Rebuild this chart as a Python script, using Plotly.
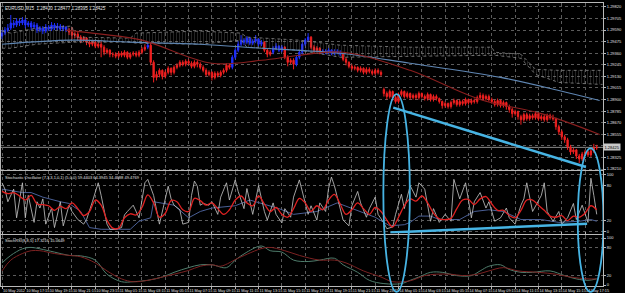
import plotly.graph_objects as go

# ---------------- data ----------------
bars = list(range(205))
closes = [1.2956,1.2959,1.2961,1.2966,1.2964,1.2968,1.2966,1.2969,1.2964,1.2966,
          1.2962,1.2964,1.2959,1.2961,1.2958,1.2962,1.2960,1.2964,1.2961,1.2963,
          1.2960,1.2962,1.2959,1.2957,1.2954,1.2955,1.2952,1.2949,1.2951,1.2947,
          1.2945,1.2947,1.2943,1.2945,1.2942,1.2937,1.2939,1.2935,1.2935,1.2933,
          1.2936,1.2934,1.2937,1.2932,1.2935,1.2936,1.2934,1.2937,1.2940,1.2942,
          1.2944,1.2927,1.2912,1.2915,1.2919,1.2913,1.2917,1.2921,1.2917,1.2922,
          1.2924,1.2927,1.2925,1.2928,1.2926,1.2923,1.2927,1.2925,1.2922,1.2919,
          1.2915,1.2917,1.2912,1.2916,1.2914,1.2917,1.2919,1.2924,1.2922,1.2932,
          1.2939,1.2945,1.2949,1.2947,1.2951,1.2946,1.2948,1.2950,1.2945,1.2947,
          1.2939,1.2935,1.2937,1.2941,1.2943,1.2939,1.2942,1.2932,1.2927,1.2929,
          1.2925,1.2932,1.2937,1.2945,1.2949,1.2952,1.2942,1.2939,1.2941,1.2937,
          1.2938,1.2937,1.2939,1.2936,1.2938,1.2937,1.2935,1.2930,1.2927,1.2923,
          1.2921,1.2922,1.2919,1.2921,1.2917,1.2920,1.2918,1.2916,1.2919,1.2917,
          1.2915,1.2896,1.2893,1.2898,1.2892,1.2888,1.2895,1.2898,1.2893,1.2896,
          1.2892,1.2894,1.2892,1.2896,1.2893,1.2891,1.2895,1.2890,1.2893,1.2891,
          1.2888,1.2884,1.2886,1.2883,1.2887,1.2889,1.2885,1.2888,1.2886,1.2890,
          1.2887,1.2889,1.2888,1.2892,1.2894,1.2891,1.2893,1.2890,1.2888,1.2885,
          1.2889,1.2884,1.2887,1.2883,1.2880,1.2876,1.2878,1.2873,1.2870,1.2875,
          1.2871,1.2874,1.2872,1.2876,1.2871,1.2873,1.2870,1.2874,1.2872,1.2871,
          1.2863,1.2858,1.2853,1.2850,1.2843,1.2838,1.2840,1.2834,1.2831,1.2836,
          1.2838,1.2835,1.2839,1.2842,1.28425]
opens = [1.2953,1.2956,1.2959,1.2961,1.2966,1.2964,1.2968,1.2966,1.2969,1.2964,
         1.2966,1.2962,1.2964,1.2959,1.2961,1.2958,1.2962,1.2960,1.2964,1.2961,
         1.2963,1.2960,1.2962,1.2959,1.2957,1.2954,1.2955,1.2952,1.2949,1.2951,
         1.2947,1.2945,1.2947,1.2943,1.2945,1.2942,1.2937,1.2939,1.2935,1.2935,
         1.2933,1.2936,1.2934,1.2937,1.2932,1.2935,1.2936,1.2934,1.2937,1.2940,
         1.2942,1.2944,1.2927,1.2912,1.2915,1.2919,1.2913,1.2917,1.2921,1.2917,
         1.2922,1.2924,1.2927,1.2925,1.2928,1.2926,1.2923,1.2927,1.2925,1.2922,
         1.2919,1.2915,1.2917,1.2912,1.2916,1.2914,1.2917,1.2919,1.2924,1.2922,
         1.2932,1.2939,1.2945,1.2949,1.2947,1.2951,1.2946,1.2948,1.2950,1.2945,
         1.2947,1.2939,1.2935,1.2937,1.2941,1.2943,1.2939,1.2942,1.2932,1.2927,
         1.2929,1.2925,1.2932,1.2937,1.2945,1.2949,1.2952,1.2942,1.2939,1.2941,
         1.2937,1.2938,1.2937,1.2939,1.2936,1.2938,1.2937,1.2935,1.2930,1.2927,
         1.2923,1.2921,1.2922,1.2919,1.2921,1.2917,1.2920,1.2918,1.2916,1.2919,
         1.2917,1.2900,1.2896,1.2893,1.2898,1.2892,1.2888,1.2895,1.2898,1.2893,
         1.2896,1.2892,1.2894,1.2892,1.2896,1.2893,1.2891,1.2895,1.2890,1.2893,
         1.2891,1.2888,1.2884,1.2886,1.2883,1.2887,1.2889,1.2885,1.2888,1.2886,
         1.2890,1.2887,1.2889,1.2888,1.2892,1.2894,1.2891,1.2893,1.2890,1.2888,
         1.2885,1.2889,1.2884,1.2887,1.2883,1.2880,1.2876,1.2878,1.2873,1.2870,
         1.2875,1.2871,1.2874,1.2872,1.2876,1.2871,1.2873,1.2870,1.2874,1.2872,
         1.2871,1.2863,1.2858,1.2853,1.2850,1.2843,1.2838,1.2840,1.2834,1.2831,
         1.2836,1.2838,1.2835,1.2839,1.2842]
highs = [1.2959,1.2962,1.2965,1.2974,1.2969,1.2971,1.2970,1.2972,1.2971,1.2968,
         1.2968,1.2967,1.2966,1.2963,1.2963,1.2965,1.2964,1.2967,1.2966,1.2966,
         1.2965,1.2964,1.2963,1.2961,1.2962,1.2957,1.2957,1.2954,1.2953,1.2952,
         1.2949,1.2949,1.2948,1.2947,1.2948,1.2944,1.2941,1.2940,1.2937,1.2937,
         1.2938,1.2938,1.2939,1.2938,1.2937,1.2938,1.2938,1.2939,1.2942,1.2945,
         1.2947,1.2946,1.2929,1.2918,1.2921,1.2920,1.2919,1.2923,1.2922,1.2924,
         1.2926,1.2929,1.2929,1.2930,1.2930,1.2928,1.2929,1.2929,1.2927,1.2924,
         1.2921,1.2919,1.2918,1.2918,1.2918,1.2919,1.2921,1.2926,1.2926,1.2934,
         1.2941,1.2948,1.2954,1.2951,1.2953,1.2952,1.2950,1.2954,1.2951,1.2949,
         1.2948,1.2941,1.2939,1.2943,1.2946,1.2944,1.2944,1.2943,1.2934,1.2931,
         1.2931,1.2934,1.2939,1.2947,1.2951,1.2956,1.2953,1.2944,1.2943,1.2942,
         1.2940,1.2940,1.2941,1.2940,1.2940,1.2940,1.2939,1.2936,1.2932,1.2928,
         1.2925,1.2924,1.2923,1.2923,1.2922,1.2922,1.2922,1.2920,1.2921,1.2921,
         1.2919,1.2902,1.2898,1.2900,1.2899,1.2894,1.2897,1.2900,1.2899,1.2898,
         1.2897,1.2896,1.2896,1.2898,1.2897,1.2895,1.2897,1.2896,1.2895,1.2895,
         1.2892,1.2889,1.2888,1.2887,1.2889,1.2891,1.2890,1.2890,1.2890,1.2892,
         1.2891,1.2891,1.2891,1.2894,1.2897,1.2896,1.2895,1.2895,1.2892,1.2890,
         1.2891,1.2890,1.2889,1.2888,1.2885,1.2882,1.2880,1.2879,1.2875,1.2877,
         1.2877,1.2876,1.2876,1.2878,1.2877,1.2875,1.2875,1.2876,1.2876,1.2875,
         1.2872,1.2865,1.2860,1.2855,1.2852,1.2845,1.2842,1.2841,1.2836,1.2838,
         1.2840,1.2840,1.2841,1.2846,1.2845]
lows = [1.2950,1.2954,1.2957,1.2959,1.2961,1.2962,1.2963,1.2964,1.2961,1.2962,
        1.2959,1.2960,1.2956,1.2957,1.2955,1.2956,1.2958,1.2958,1.2959,1.2959,
        1.2958,1.2958,1.2957,1.2954,1.2950,1.2951,1.2949,1.2946,1.2947,1.2944,
        1.2942,1.2943,1.2941,1.2941,1.2932,1.2934,1.2935,1.2932,1.2932,1.2931,
        1.2931,1.2932,1.2932,1.2930,1.2930,1.2933,1.2932,1.2932,1.2935,1.2938,
        1.2940,1.2924,1.2907,1.2909,1.2912,1.2910,1.2911,1.2915,1.2914,1.2915,
        1.2920,1.2922,1.2923,1.2923,1.2924,1.2921,1.2921,1.2922,1.2920,1.2917,
        1.2913,1.2913,1.2909,1.2910,1.2912,1.2912,1.2915,1.2917,1.2920,1.2920,
        1.2930,1.2937,1.2943,1.2944,1.2945,1.2944,1.2944,1.2946,1.2943,1.2943,
        1.2937,1.2932,1.2933,1.2935,1.2939,1.2937,1.2937,1.2930,1.2923,1.2925,
        1.2920,1.2923,1.2930,1.2935,1.2943,1.2947,1.2940,1.2936,1.2937,1.2935,
        1.2935,1.2935,1.2935,1.2934,1.2934,1.2935,1.2933,1.2928,1.2924,1.2921,
        1.2919,1.2919,1.2917,1.2917,1.2915,1.2915,1.2916,1.2914,1.2914,1.2915,
        1.2913,1.2893,1.2890,1.2891,1.2889,1.2886,1.2886,1.2893,1.2891,1.2891,
        1.2890,1.2890,1.2890,1.2890,1.2891,1.2889,1.2889,1.2888,1.2888,1.2889,
        1.2886,1.2881,1.2882,1.2881,1.2881,1.2885,1.2883,1.2883,1.2884,1.2884,
        1.2885,1.2885,1.2886,1.2886,1.2890,1.2889,1.2889,1.2888,1.2886,1.2883,
        1.2883,1.2882,1.2882,1.2880,1.2877,1.2872,1.2874,1.2870,1.2865,1.2868,
        1.2869,1.2869,1.2870,1.2870,1.2869,1.2869,1.2868,1.2868,1.2870,1.2869,
        1.2860,1.2855,1.2850,1.2847,1.2840,1.2835,1.2836,1.2831,1.2827,1.2829,
        1.2834,1.2833,1.2833,1.2837,1.2840]
blue_runs = [(0, 22), (50, 50), (79, 89), (93, 96), (101, 105), (110, 116)]

cloud_bars = [0, 3, 12, 24, 25, 44, 46, 68, 82, 84, 102, 116, 140, 168, 169, 178, 183, 191, 206]
cloud_span_a = [1.2958, 1.2956, 1.2961, 1.2963, 1.2952, 1.2951, 1.2956, 1.2958, 1.2956, 1.2952,
                1.2949, 1.2944, 1.2942, 1.2942, 1.2937, 1.2935, 1.2920, 1.2919, 1.2919]
cloud_span_b = [1.2941, 1.2941, 1.2945, 1.2947, 1.2947, 1.2947, 1.2946, 1.2945, 1.2949, 1.2942,
                1.2939, 1.2932, 1.2933, 1.2934, 1.2934, 1.2931, 1.2915, 1.2907, 1.2905]

ma_blue_bars = [0, 24, 44, 68, 89, 116, 140, 171, 191, 205]
ma_blue = [1.2945, 1.2949, 1.2947, 1.2945, 1.2941, 1.2936, 1.2926, 1.2912, 1.2899, 1.2889]
ma_red_bars = [22, 34, 48, 72, 89, 102, 117, 140, 164, 185, 205]
ma_red = [1.2959, 1.2955, 1.2949, 1.2926, 1.2929, 1.2934, 1.2937, 1.2919, 1.2890, 1.2876, 1.28553]

stoch_fast_bars = [0,1,2,4,5,6,7,8,9,11,12,13,14,15,17,18,20,21,23,24,26,28,29,31,33,34,36,37,39,41,
                   42,43,45,47,48,49,50,52,54,55,57,58,59,61,62,64,65,66,67,68,69,71,72,
                   74,75,77,78,80,81,83,84,86,87,88,90,91,93,94,96,97,99,100,102,103,105,106,108,
                   109,111,112,113,114,116,117,119,120,122,123,125,126,128,129,131,132,134,135,137,138,140,
                   142,143,145,147,148,150,152,154,155,157,159,161,162,164,166,167,169,171,173,174,
                   176,178,179,180,182,185,186,187,189,191,192,194,196,197,199,201,202,203,204]
stoch_fast = [85,74,52,74,24,57,85,24,63,16,52,41,57,13,41,7,52,10,46,35,21,13,21,52,85,63,13,4,4,7,
              29,35,46,24,52,85,91,63,13,35,79,57,46,38,13,16,63,88,79,46,49,46,52,
              30,60,85,55,90,70,40,75,30,55,80,35,20,50,30,15,40,25,60,90,70,30,45,20,
              50,35,75,95,80,40,20,10,45,70,50,25,40,60,30,15,5,8,30,65,40,80,
              60,85,74,18,40,16,30,18,91,57,85,24,52,68,41,52,18,24,41,24,
              13,46,57,85,35,63,85,35,18,35,13,24,49,21,46,16,93,63,30]
stoch_signal_bars = list(range(0, 205, 2))
stoch_signal = [70,66,68,62,55,63,48,47,45,37, 44,40,50,40,28,35,55,46,20,6,
                6,24,31,29,42,64,50,25,32,54, 52,38,35,58,54,46,50,40,30,38,
                55,62,50,45,62,48,35,42,30,25, 40,58,50,35,45,38,55,65,48,30,
                38,50,40,30,42,35,20,8,25,45, 57,53,62,50,32,22,21,23,40,55,
                56,47,57,61,48,37,37,28,24,37, 55,55,46,37,27,25,28,19,27,25,
                32,45,38]
stoch_slow_bars = [0,3,7,10,14,20,23,27,30,34,44,47,51,52,59,64,68,72,80,85,
                   95,100,108,115,120,128,133,138,140,143,147,150,157,162,167,172,178,185,191,198,202,204]
stoch_slow = [74,71,68,68,60,52,49,35,7,4,4,18,24,52,46,24,35,41,45,55,
              40,30,35,50,40,25,10,12,16,27,27,21,21,35,38,35,21,21,16,18,21,18]

rsi_main_bars = [0,3,7,10,13,18,23,27,32,36,41,45,50,55,59,64,68,72,77,80,
                 84,89,92,96,100,105,109,114,117,122,126,131,137,140,143,147,151,156,161,164,
                 167,171,174,178,182,188,193,197,201,204]
rsi_main = [47,63,77,80,77,70,63,62,53,23,7,7,10,17,27,37,43,43,37,53,
            70,83,73,70,53,50,53,57,43,27,10,3,3,10,17,27,27,20,20,30,
            40,43,33,27,27,30,20,13,10,13]
rsi_signal_bars = [0,3,7,10,13,18,23,27,32,36,41,45,50,55,59,64,68,72,75,82,
                   91,97,102,109,114,118,124,130,134,140,145,149,154,158,163,167,172,177,184,190,
                   195,201,204]
rsi_signal = [30,53,67,73,73,67,63,60,47,30,13,7,10,17,23,31,40,43,40,60,
              80,73,63,53,53,47,30,17,7,9,20,23,23,20,23,30,37,30,27,23,17,13,13]

tick_bars = list(range(0, 201, 8))
tick_text = ["10 May 2012", "10 May 17:15", "10 May 19:15", "10 May 21:15", "10 May 23:15",
             "11 May 01:15", "11 May 03:15", "11 May 05:15", "11 May 07:15", "11 May 09:15",
             "11 May 11:15", "11 May 13:15", "11 May 15:15", "11 May 17:15", "11 May 19:15",
             "11 May 21:15", "11 May 23:15", "14 May 01:15", "14 May 03:15", "14 May 05:15",
             "14 May 07:15", "14 May 09:15", "14 May 11:15", "14 May 13:15", "14 May 15:15",
             "14 May 17:15"]
price_ticks = [1.29820, 1.29705, 1.29590, 1.29475, 1.29360, 1.29245, 1.29130, 1.29015,
               1.28900, 1.28785, 1.28670, 1.28555, 1.28440, 1.28325, 1.28210]
osc_ticks = [0, 20, 80, 100]

# user drawings (bar index, value)
trend_price_bars = [134.2, 200.3]
trend_price_vals = [1.2882, 1.2823]
trend_osc_bars = [133.2, 200.7]
trend_osc_vals = [-1.7, 13.8]
ellipse_bars = [(130.8, 139.9), (197.5, 206.3)]
ellipse_paper_y = [(-0.021, 0.678), (-0.021, 0.486)]

title_main = "EURUSD,M15  1.28430 1.28477 1.28395 1.28425"
title_stoch = "Stochastic Oscillator (7,3,3,1,0,1) (5,0,0) 59.4403 64.3945 34.4688 49.4769"
title_rsi = "StochRSI(8,8,5) 17.3216 15.0649"

# ---------------- figure ----------------
FONT = "Liberation Sans"
GRID = "#5c5c5c"
FRAME = "#b8b8b8"
TXT = "#e0e0e0"
CYAN = "#47b4e4"

fig = go.Figure()

# Ichimoku cloud
fig.add_trace(go.Scatter(x=cloud_bars, y=cloud_span_b, mode="lines",
                         line=dict(color="#8a8a8a", width=0.8, dash="dot"),
                         hoverinfo="skip", yaxis="y"))
fig.add_trace(go.Scatter(x=cloud_bars, y=cloud_span_a, mode="lines",
                         line=dict(color="#8a8a8a", width=0.8, dash="dot"),
                         fill="tonexty", fillcolor="rgba(0,0,0,0)",
                         fillpattern=dict(shape="|", fgcolor="#7c7c7c", bgcolor="rgba(0,0,0,0)",
                                          size=3, solidity=0.2),
                         hoverinfo="skip", yaxis="y"))
# moving averages
fig.add_trace(go.Scatter(x=ma_blue_bars, y=ma_blue, mode="lines", line=dict(color="#5f86b3", width=1.1, shape="spline"),
                         hoverinfo="skip", yaxis="y"))
fig.add_trace(go.Scatter(x=ma_red_bars, y=ma_red, mode="lines", line=dict(color="#8a1f1f", width=1.1, shape="spline"),
                         hoverinfo="skip", yaxis="y"))

# candles split by colour
def in_blue(i):
    return any(a <= i <= b for a, b in blue_runs)

for flag, col in [(True, "#2030ff"), (False, "#f02020")]:
    idx = [i for i in bars if in_blue(i) == flag]
    fig.add_trace(go.Candlestick(
        x=[bars[i] for i in idx], open=[opens[i] for i in idx], high=[highs[i] for i in idx],
        low=[lows[i] for i in idx], close=[closes[i] for i in idx],
        increasing=dict(line=dict(color=col, width=1), fillcolor=col),
        decreasing=dict(line=dict(color=col, width=1), fillcolor=col),
        whiskerwidth=0, hoverinfo="skip", yaxis="y", showlegend=False))

# stochastic panel
fig.add_trace(go.Scatter(x=stoch_slow_bars, y=stoch_slow, mode="lines", line=dict(color="#4a5f96", width=1),
                         hoverinfo="skip", yaxis="y2"))
fig.add_trace(go.Scatter(x=stoch_fast_bars, y=stoch_fast, mode="lines", line=dict(color="#c8c8c8", width=0.8),
                         hoverinfo="skip", yaxis="y2"))
fig.add_trace(go.Scatter(x=stoch_signal_bars, y=stoch_signal, mode="lines",
                         line=dict(color="#e02222", width=1.3, shape="spline"), hoverinfo="skip", yaxis="y2"))

# lower oscillator panel
fig.add_trace(go.Scatter(x=rsi_main_bars, y=rsi_main, mode="lines", line=dict(color="#4f7d6c", width=1, shape="spline"),
                         hoverinfo="skip", yaxis="y3"))
fig.add_trace(go.Scatter(x=rsi_signal_bars, y=rsi_signal, mode="lines",
                         line=dict(color="#7c2222", width=1, shape="spline"), hoverinfo="skip", yaxis="y3"))

shapes = []
# bid line
shapes.append(dict(type="line", xref="paper", yref="y", x0=0, x1=1, y0=closes[-1], y1=closes[-1],
                   line=dict(color="#8a8a8a", width=1), layer="below"))
# drawings
shapes.append(dict(type="line", xref="x", yref="y", x0=trend_price_bars[0], x1=trend_price_bars[1],
                   y0=trend_price_vals[0], y1=trend_price_vals[1], line=dict(color=CYAN, width=2.5)))
shapes.append(dict(type="line", xref="x", yref="y2", x0=trend_osc_bars[0], x1=trend_osc_bars[1],
                   y0=trend_osc_vals[0], y1=trend_osc_vals[1], line=dict(color=CYAN, width=2.5)))
for (xa, xb), (ya, yb) in zip(ellipse_bars, ellipse_paper_y):
    shapes.append(dict(type="circle", xref="x", yref="paper", x0=xa, x1=xb, y0=ya, y1=yb,
                       line=dict(color=CYAN, width=1.8)))

annotations = [
    dict(text=title_main, xref="paper", yref="paper", x=0.004, y=0.998, xanchor="left", yanchor="top",
         showarrow=False, font=dict(family=FONT, size=4.5, color=TXT)),
    dict(text=title_stoch, xref="paper", yref="paper", x=0.004, y=0.398, xanchor="left", yanchor="top",
         showarrow=False, font=dict(family=FONT, size=4, color=TXT)),
    dict(text=title_rsi, xref="paper", yref="paper", x=0.004, y=0.176, xanchor="left", yanchor="top",
         showarrow=False, font=dict(family=FONT, size=4, color=TXT)),
    dict(text=f"{closes[-1]:.5f}", xref="paper", yref="y", x=1.0, y=closes[-1], xanchor="left", yanchor="middle",
         showarrow=False, bgcolor="#c8c8c8", borderpad=0.5, font=dict(family=FONT, size=4, color="#000000")),
]

axis_common = dict(showgrid=True, gridcolor=GRID, griddash="dot", gridwidth=1, zeroline=False,
                   showline=True, linecolor=FRAME, linewidth=1, ticks="outside", ticklen=2,
                   tickcolor=FRAME, tickfont=dict(family=FONT, size=4, color=TXT))

# price labels: the one under the bid box is hidden, as on the terminal
price_text = ["" if abs(v - closes[-1]) < 0.0004 else f"{v:.5f}" for v in price_ticks]

fig.update_layout(
    width=625, height=293,
    margin=dict(l=0, r=22, t=0, b=7),
    paper_bgcolor="#000000", plot_bgcolor="#000000",
    showlegend=False,
    xaxis=dict(domain=[0, 1], range=[-0.35, 206.15], anchor="y3",
               tickvals=tick_bars, ticktext=tick_text, ticklabelposition="outside right",
               tickangle=0, ticklabelstandoff=0,
               mirror="all", rangeslider=dict(visible=False), **axis_common),
    yaxis=dict(domain=[0.4091, 1.0], range=[1.28198, 1.29859], side="right", anchor="x",
               tickvals=price_ticks, ticktext=price_text, mirror=True,
               **axis_common),
    yaxis2=dict(domain=[0.1853, 0.4056], range=[-3.45, 105.2], side="right", anchor="x",
                tickvals=osc_ticks, ticktext=[str(v) for v in osc_ticks], mirror=True, **axis_common),
    yaxis3=dict(domain=[0.0, 0.1818], range=[-2.1, 107.4], side="right", anchor="x",
                tickvals=osc_ticks, ticktext=[str(v) for v in osc_ticks], mirror=True, **axis_common),
    shapes=shapes, annotations=annotations,
    boxgap=0.35,
)
fig.update_xaxes(tickfont=dict(family=FONT, size=3.8, color=TXT))

fig.write_html("out.html")
